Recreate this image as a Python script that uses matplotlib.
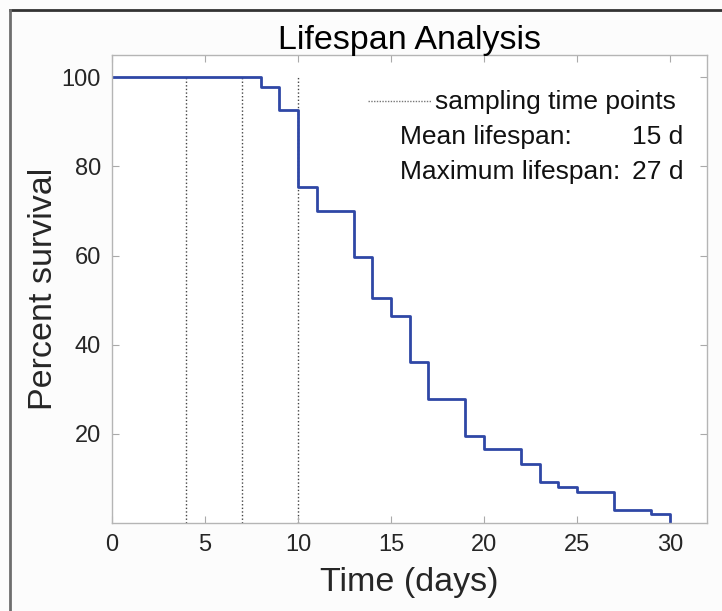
import matplotlib
matplotlib.use("Agg")
import matplotlib.pyplot as plt
from matplotlib.lines import Line2D

plt.rcParams['font.family'] = ['Liberation Sans', 'DejaVu Sans']

# Data
days = [0, 8, 9, 10, 11, 13, 14, 15, 16, 17, 19, 20, 22, 23, 24, 25, 27, 29, 30]
survival = [100, 97.8, 92.6, 75.3, 70.0, 59.7, 50.4, 46.4, 36.1, 27.8, 19.5, 16.5,
            13.2, 9.1, 8.1, 7.0, 2.9, 2.0, 0]
sampling_days = [4, 7, 10]
x_ticks = [0, 5, 10, 15, 20, 25, 30]
y_ticks = [20, 40, 60, 80, 100]
mean_lifespan = 15
max_lifespan = 27

text_col = '#262626'
fig = plt.figure(figsize=(7.22, 6.11), dpi=100, facecolor='#fcfcfc')
ax = fig.add_axes([112/722, 88/611, 595/722, 468/611])
ax.set_facecolor('white')

for d in sampling_days:
    ax.plot([d, d], [0, 100], linestyle=(0, (1, 1.6)), color='#444444', lw=1.0, zorder=1)

ax.step(days, survival, where='post', color='#2f47a6', lw=2.0, zorder=2)

ax.set_xlim(0, 32)
ax.set_ylim(0, 105)
ax.set_xticks(x_ticks)
ax.set_yticks(y_ticks)
ax.tick_params(direction='in', length=5, top=True, right=True, colors='#aaaaaa',
               labelcolor=text_col, labelsize=17, pad=8)
for s in ax.spines.values():
    s.set_color('#b5b5b5')
    s.set_linewidth(1.0)

ax.set_title('Lifespan Analysis', fontsize=24.5, color='black', pad=4)
ax.set_xlabel('Time (days)', fontsize=24.5, color=text_col, labelpad=8)
ax.set_ylabel('Percent survival', fontsize=24.5, color=text_col, labelpad=2)

# legend-like annotations
fs = 19
ax.plot([0.430, 0.536], [0.902, 0.902], transform=ax.transAxes,
        linestyle=(0, (1, 1)), color='#777777', lw=1.0)
ax.text(0.543, 0.900, 'sampling time points', transform=ax.transAxes,
        fontsize=fs, va='center', ha='left', color='#111111')
ax.text(0.484, 0.825, 'Mean lifespan:', transform=ax.transAxes,
        fontsize=fs, va='center', ha='left', color='#111111')
ax.text(0.960, 0.825, f'{mean_lifespan} d', transform=ax.transAxes,
        fontsize=fs, va='center', ha='right', color='#111111')
ax.text(0.484, 0.750, 'Maximum lifespan:', transform=ax.transAxes,
        fontsize=fs, va='center', ha='left', color='#111111')
ax.text(0.960, 0.750, f'{max_lifespan} d', transform=ax.transAxes,
        fontsize=fs, va='center', ha='right', color='#111111')

# screenshot frame lines
fig.add_artist(Line2D([10/722, 1.0], [1 - 9.5/611, 1 - 9.5/611], transform=fig.transFigure,
                      color='#333333', lw=2.0))
fig.add_artist(Line2D([10/722, 10/722], [0, 1 - 9.5/611], transform=fig.transFigure,
                      color='#6e6e6e', lw=2.0))

fig.savefig('out.png', dpi=100, facecolor=fig.get_facecolor())
